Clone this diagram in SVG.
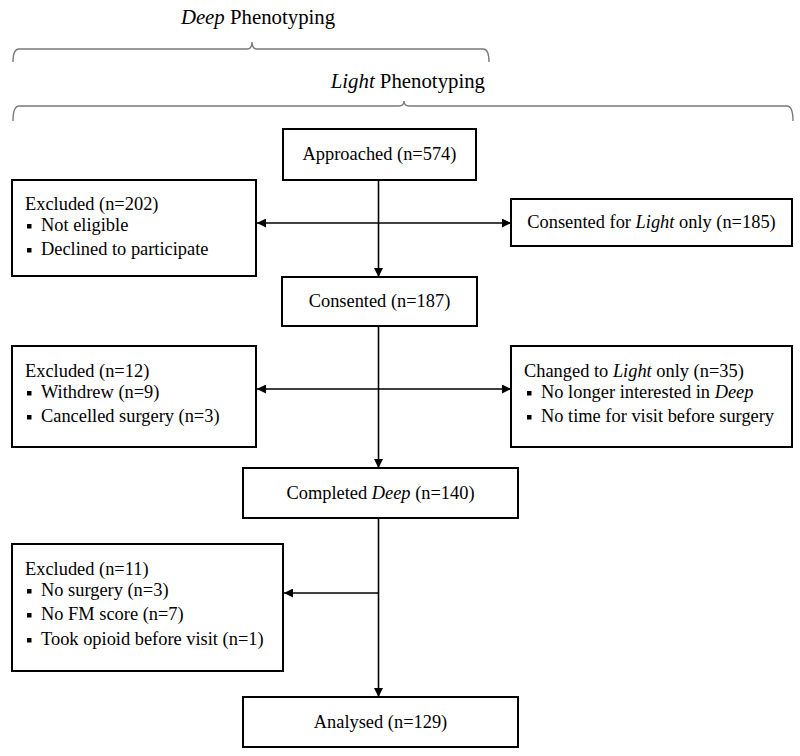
<svg xmlns="http://www.w3.org/2000/svg" width="800" height="756" viewBox="0 0 800 756" font-family="'Liberation Serif', Tinos, 'Times New Roman', 'DejaVu Serif', serif">
<style>
text{font-family:'Liberation Serif', Tinos, 'Times New Roman', 'DejaVu Serif', serif;font-size:18.4px;fill:#000}
.h{font-size:20.8px}
.c{text-anchor:middle}
.box{fill:#fff;stroke:#000;stroke-width:2}
.brace{fill:none;stroke:#7a7a7a;stroke-width:1.4}
.ln{fill:none;stroke:#000;stroke-width:1.6}
.b{fill:#000}
</style>
<defs>
<marker id="ah" viewBox="0 0 10 10" refX="10" refY="5" markerWidth="9" markerHeight="9" markerUnits="userSpaceOnUse" orient="auto">
<path d="M0,0 L10,5 L0,10 Z" fill="#000"/>
</marker>
</defs>
<rect width="800" height="756" fill="#fff"/>

<g id="deep-brace">
<text class="h c" x="258" y="24"><tspan font-style="italic">Deep</tspan> Phenotyping</text>
<path class="brace" d="M13,62 Q13,49 19,49 L247,49 Q252,49 252,42 Q252,49 257,49 L483,49 Q489,49 489,62"/>
</g>
<g id="light-brace">
<text class="h" x="485" y="88" text-anchor="end"><tspan font-style="italic">Light</tspan> Phenotyping</text>
<path class="brace" d="M13,121 Q13,106 19,106 L399,106 Q404,106 404,101 Q404,106 409,106 L787,106 Q793,106 793,121"/>
</g>

<g id="connectors">
<line class="ln" x1="378.5" y1="180" x2="378.5" y2="277" marker-end="url(#ah)"/>
<line class="ln" x1="378.5" y1="223" x2="257" y2="223" marker-end="url(#ah)"/>
<line class="ln" x1="378.5" y1="223" x2="511" y2="223" marker-end="url(#ah)"/>
<line class="ln" x1="378.5" y1="326" x2="378.5" y2="468" marker-end="url(#ah)"/>
<line class="ln" x1="378.5" y1="389" x2="257" y2="389" marker-end="url(#ah)"/>
<line class="ln" x1="378.5" y1="389" x2="511" y2="389" marker-end="url(#ah)"/>
<line class="ln" x1="378.5" y1="518" x2="378.5" y2="697" marker-end="url(#ah)"/>
<line class="ln" x1="378.5" y1="593" x2="284" y2="593" marker-end="url(#ah)"/>
</g>

<g id="approached">
<rect class="box" x="283" y="129" width="193" height="51"/>
<text class="c" x="379.5" y="160">Approached (n=574)</text>
</g>
<g id="excluded202">
<rect class="box" x="12" y="180" width="244" height="96"/>
<text x="25" y="210">Excluded (n=202)</text>
<rect class="b" x="27" y="224" width="4.5" height="4.5"/>
<text x="41" y="231">Not eligible</text>
<rect class="b" x="27" y="248" width="4.5" height="4.5"/>
<text x="41" y="255">Declined to participate</text>
</g>
<g id="consented-light">
<rect class="box" x="511" y="199" width="281" height="47"/>
<text class="c" x="651.5" y="228">Consented for <tspan font-style="italic">Light</tspan> only (n=185)</text>
</g>
<g id="consented">
<rect class="box" x="282" y="277" width="195" height="49"/>
<text class="c" x="379.5" y="307">Consented (n=187)</text>
</g>
<g id="excluded12">
<rect class="box" x="12" y="346" width="244" height="101"/>
<text x="25" y="377">Excluded (n=12)</text>
<rect class="b" x="27" y="391" width="4.5" height="4.5"/>
<text x="41" y="398">Withdrew (n=9)</text>
<rect class="b" x="27" y="415" width="4.5" height="4.5"/>
<text x="41" y="422">Cancelled surgery (n=3)</text>
</g>
<g id="changed-light">
<rect class="box" x="511" y="346" width="281" height="101"/>
<text x="524" y="377">Changed to <tspan font-style="italic">Light</tspan> only (n=35)</text>
<rect class="b" x="527" y="391" width="4.5" height="4.5"/>
<text x="541" y="398">No longer interested in <tspan font-style="italic">Deep</tspan></text>
<rect class="b" x="527" y="415" width="4.5" height="4.5"/>
<text x="541" y="422">No time for visit before surgery</text>
</g>
<g id="completed-deep">
<rect class="box" x="243" y="468" width="275" height="50"/>
<text class="c" x="380.5" y="499">Completed <tspan font-style="italic">Deep</tspan> (n=140)</text>
</g>
<g id="excluded11">
<rect class="box" x="12" y="544" width="271" height="127"/>
<text x="25" y="575">Excluded (n=11)</text>
<rect class="b" x="27" y="589" width="4.5" height="4.5"/>
<text x="41" y="596">No surgery (n=3)</text>
<rect class="b" x="27" y="613" width="4.5" height="4.5"/>
<text x="41" y="620">No FM score (n=7)</text>
<rect class="b" x="27" y="638" width="4.5" height="4.5"/>
<text x="41" y="645">Took opioid before visit (n=1)</text>
</g>
<g id="analysed">
<rect class="box" x="243" y="697" width="275" height="50"/>
<text class="c" x="380.5" y="728">Analysed (n=129)</text>
</g>
</svg>
